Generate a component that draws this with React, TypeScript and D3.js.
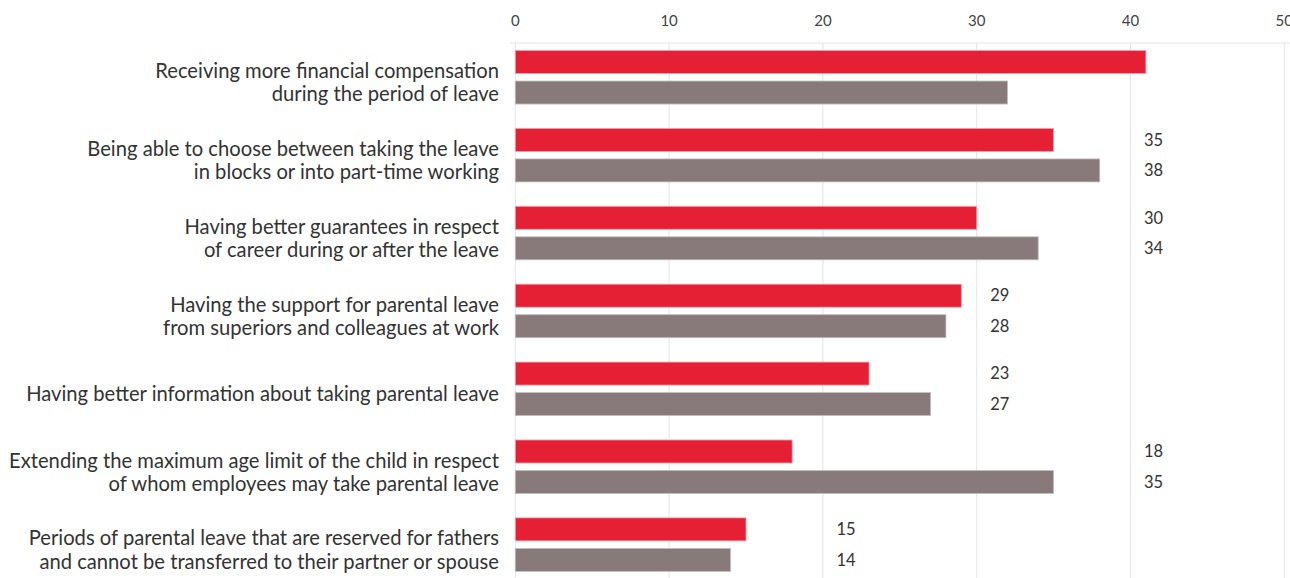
import React, { useEffect, useRef } from "react";
import * as d3 from "d3";

const categories: string[][] = [
  ["Receiving more financial compensation", "during the period of leave"],
  ["Being able to choose between taking the leave", "in blocks or into part-time working"],
  ["Having better guarantees in respect", "of career during or after the leave"],
  ["Having the support for parental leave", "from superiors and colleagues at work"],
  ["Having better information about taking parental leave"],
  ["Extending the maximum age limit of the child in respect", "of whom employees may take parental leave"],
  ["Periods of parental leave that are reserved for fathers", "and cannot be transferred to their partner or spouse"],
];
const seriesNames = ["Series A", "Series B"];
const seriesA = [41, 35, 30, 29, 23, 18, 15];
const seriesB = [32, 38, 34, 28, 27, 35, 14];
const xTicks = [0, 10, 20, 30, 40, 50];
const colors = ["#e52035", "#887a7b"];

const W = 1290;
const H = 578;
const FONT = "Lato, 'Open Sans', sans-serif";

export default function App() {
  const ref = useRef<SVGSVGElement>(null);
  useEffect(() => {
    document.body.style.margin = "0";
    const svg = d3.select(ref.current);
    svg.selectAll("*").remove();

    const x = d3.scaleLinear().domain([0, 50]).range([515.3, 1284.3]);
    const idx = categories.map((_, i) => i);
    const y = d3
      .scaleBand<number>()
      .domain(idx)
      .range([38.3, 38.3 + 7 * 77.9])
      .paddingInner(0.313)
      .paddingOuter(0.157);
    const ySub = d3
      .scaleBand<number>()
      .domain([0, 1])
      .range([0, y.bandwidth()])
      .paddingInner(0.246);

    const topY = 43;
    svg
      .append("line")
      .attr("x1", 510)
      .attr("x2", W)
      .attr("y1", topY)
      .attr("y2", topY)
      .attr("stroke", "#e4e4e4")
      .attr("stroke-width", 1);
    svg
      .selectAll("line.grid")
      .data(xTicks)
      .enter()
      .append("line")
      .attr("class", "grid")
      .attr("x1", (d) => x(d))
      .attr("x2", (d) => x(d))
      .attr("y1", topY)
      .attr("y2", H)
      .attr("stroke", "#e4e4e4")
      .attr("stroke-width", 1);

    svg
      .selectAll("text.tick")
      .data(xTicks)
      .enter()
      .append("text")
      .attr("class", "tick")
      .attr("x", (d) => x(d))
      .attr("y", 25.5)
      .attr("text-anchor", "middle")
      .attr("font-family", FONT)
      .attr("font-size", 15)
      .attr("fill", "#444")
      .text((d) => String(d));

    const values = [seriesA, seriesB];
    values.forEach((vals, s) => {
      svg
        .selectAll(`rect.s${s}`)
        .data(vals)
        .enter()
        .append("rect")
        .attr("class", `s${s}`)
        .attr("x", x(0))
        .attr("y", (_, i) => (y(i) as number) + (ySub(s) as number))
        .attr("width", (d) => x(d) - x(0))
        .attr("height", ySub.bandwidth())
        .attr("fill", colors[s])
        .attr("stroke", s === 0 ? "#f1a3ab" : "#c4bcbd")
        .attr("stroke-width", 0.8)
        .append("title")
        .text(seriesNames[s]);
    });

    // value labels: placed just past the next gridline beyond the group max
    values.forEach((vals, s) => {
      svg
        .selectAll(`text.v${s}`)
        .data(vals)
        .enter()
        .append("text")
        .attr("class", `v${s}`)
        .attr("x", (_, i) => {
          const m = Math.max(seriesA[i], seriesB[i]);
          return x(Math.ceil(m / 10) * 10) + 13.5;
        })
        .attr("y", (_, i) => (y(i) as number) + (ySub(s) as number) + ySub.bandwidth() / 2)
        .attr("dy", "0.35em")
        .attr("font-family", FONT)
        .attr("font-size", 16.5)
        .attr("fill", "#333")
        .text((d) => String(d));
    });

    categories.forEach((lines, i) => {
      const c = (y(i) as number) + y.bandwidth() / 2;
      const first = c + 12.5 - (lines.length - 1) * 11.7;
      const t = svg
        .append("text")
        .attr("x", 499)
        .attr("text-anchor", "end")
        .attr("font-family", FONT)
        .attr("font-size", 20.2)
        .attr("fill", "#333");
      lines.forEach((ln, k) => {
        t.append("tspan")
          .attr("x", 499)
          .attr("y", first + k * 23.4)
          .text(ln);
      });
    });
  }, []);
  return (
    <div style={{ position: "absolute", left: 0, top: 0 }}>
      <svg ref={ref} width={W} height={H} style={{ display: "block", background: "#fff" }} />
    </div>
  );
}
